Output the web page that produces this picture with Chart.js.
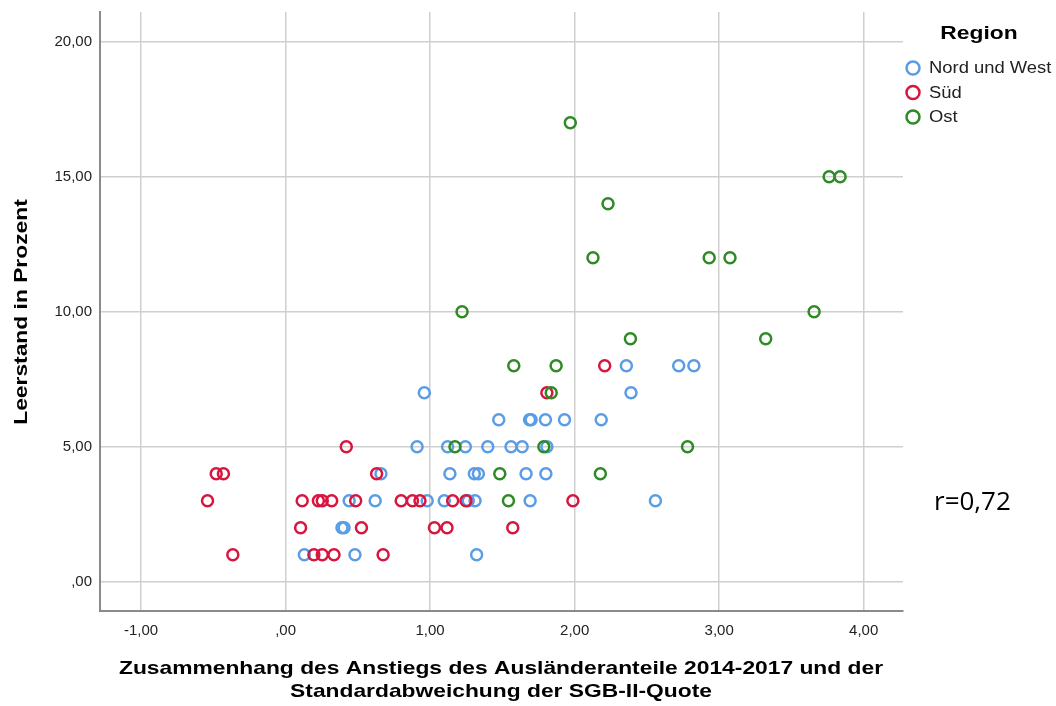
<!DOCTYPE html>
<html><head><meta charset="utf-8">
<script src="https://cdn.jsdelivr.net/npm/chart.js@4"></script>
<style>html,body{margin:0;padding:0;background:#fff}canvas{display:block}</style>
</head><body>
<canvas id="c" width="1056" height="706"></canvas>
<script>
// ---- data ----
const seriesNames = ["Nord und West", "Süd", "Ost"];
const nordWestX = [0.91,0.96,0.66,0.44,0.62,0.98,0.39,0.405,0.13,0.48,2.39,1.475,1.688,1.699,1.798,1.93,2.184,1.121,1.244,1.399,1.56,1.637,1.808,1.137,1.306,1.334,1.664,1.801,1.098,1.264,1.311,1.692,2.559,1.322,2.358,2.72,2.825];
const nordWestY = [5,7,4,3,3,3,2,2,1,1,7,6,6,6,6,6,6,5,5,5,5,5,5,4,4,4,4,4,3,3,3,3,3,1,8,8,8];
const suedX = [0.42,-0.48,-0.43,0.63,-0.54,0.115,0.227,0.254,0.319,0.485,0.80,0.878,0.93,1.156,1.248,1.988,0.104,0.525,1.03,1.117,1.572,-0.365,0.196,0.254,0.335,0.675,1.808,2.208];
const suedY = [5,4,4,4,3,3,3,3,3,3,3,3,3,3,3,3,2,2,2,2,2,1,1,1,1,1,7,8];
const ostX = [1.97,3.761,3.837,2.231,2.127,2.931,3.075,1.221,3.657,2.386,3.322,1.579,1.872,1.838,1.172,1.787,2.781,1.482,2.178,1.542];
const ostY = [17,15,15,14,12,12,12,10,10,9,9,8,8,7,5,5,5,4,4,3];
const xTicks = [-1,0,1,2,3,4];
const yTicks = [0,5,10,15,20];
const xTitleLines = ["Zusammenhang des Anstiegs des Ausländeranteile 2014-2017 und der", "Standardabweichung der SGB-II-Quote"];
const yTitle = "Leerstand in Prozent";
const legendTitle = "Region";
const corrText = "r=0,72";

// ---- styles ----
const colors = ["#5a9de6", "#d6163f", "#2e8a25"];
const FONT = "'Liberation Sans', Arial, sans-serif";

function fmt(v) {
  let s = Math.abs(v).toFixed(2).replace('.', ',');
  if (Math.abs(v) < 1) s = s.replace(/^0/, '');
  return (v < 0 ? '-' : '') + s;
}
function pts(xs, ys) { return xs.map((x, i) => ({x: x, y: ys[i]})); }

const datasets = [
  {label: seriesNames[0], data: pts(nordWestX, nordWestY), order: 2},
  {label: seriesNames[1], data: pts(suedX, suedY), order: 1},
  {label: seriesNames[2], data: pts(ostX, ostY), order: 0}
].map((d, i) => Object.assign(d, {
  borderColor: colors[i], backgroundColor: 'rgba(0,0,0,0)',
  pointRadius: 5.5, pointBorderWidth: 2.5, pointHoverRadius: 5.5
}));

// draw text horizontally stretched by sx (the reference font is wide-set)
function wideText(ctx, text, x, y, sx, rot) {
  ctx.save();
  ctx.translate(x, y);
  if (rot) ctx.rotate(rot);
  ctx.scale(sx, 1);
  ctx.fillText(text, 0, 0);
  ctx.restore();
}

const extras = {
  id: 'extras',
  afterDraw(chart) {
    const ctx = chart.ctx;
    ctx.save();
    ctx.fillStyle = '#000';
    ctx.textBaseline = 'middle';
    // y axis title
    ctx.font = "bold 19px " + FONT;
    ctx.textAlign = 'center';
    wideText(ctx, yTitle, 22, 312, 1.2, -Math.PI / 2);
    // x axis title
    ctx.font = "bold 19px " + FONT;
    wideText(ctx, xTitleLines[0], 501, 669, 1.2);
    wideText(ctx, xTitleLines[1], 501, 692, 1.2);
    // legend
    ctx.font = "bold 19px " + FONT;
    wideText(ctx, legendTitle, 979, 34, 1.2);
    ctx.textAlign = 'left';
    ctx.font = "16px " + FONT;
    chart.data.datasets.forEach((d, i) => {
      const cy = 68 + i * 24.5;
      ctx.beginPath();
      ctx.arc(913, cy, 6.5, 0, Math.PI * 2);
      ctx.strokeStyle = d.borderColor; ctx.lineWidth = 2.5; ctx.stroke();
      ctx.fillStyle = '#222';
      wideText(ctx, d.label, 929, cy + 1, 1.15);
    });
    // correlation note
    ctx.fillStyle = '#000';
    ctx.font = "26px 'Open Sans', sans-serif";
    ctx.fillText(corrText, 934, 503);
    ctx.restore();
  }
};

function noEdgePad(s) { s.paddingTop = 0; s.paddingBottom = 0; s.paddingLeft = 0; s.paddingRight = 0; }

new Chart(document.getElementById('c'), {
  type: 'scatter',
  data: {datasets: datasets},
  options: {
    responsive: false, animation: false,
    layout: {padding: {left: 0, top: 12, right: 153, bottom: 0}},
    plugins: {legend: {display: false}, tooltip: {enabled: false}},
    scales: {
      x: {
        type: 'linear', min: -1.284, max: 4.272,
        afterBuildTicks: s => { s.ticks = xTicks.map(v => ({value: v})); },
        afterFit: s => { s.height = 95; noEdgePad(s); },
        grid: {color: '#cfcfcf', lineWidth: 1.5, drawTicks: false},
        border: {color: '#8a8a8a', width: 2},
        ticks: {padding: 11, color: '#222', font: {family: FONT, size: 15}, callback: v => fmt(v), maxRotation: 0}
      },
      y: {
        type: 'linear', min: -1.085, max: 21.1,
        afterBuildTicks: s => { s.ticks = yTicks.map(v => ({value: v})); },
        afterFit: s => { s.width = 100; noEdgePad(s); },
        grid: {color: '#cfcfcf', lineWidth: 1.5, drawTicks: false},
        border: {color: '#8a8a8a', width: 2},
        ticks: {padding: 8, color: '#222', font: {family: FONT, size: 15}, callback: v => fmt(v)}
      }
    }
  },
  plugins: [extras]
});
</script>
</body></html>
